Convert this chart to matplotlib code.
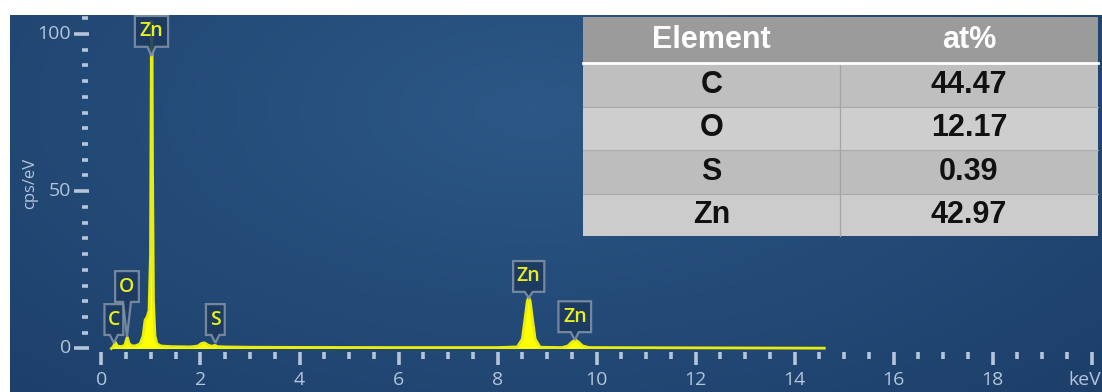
import numpy as np
import matplotlib.pyplot as plt
from matplotlib.patches import Polygon, Rectangle
from matplotlib.colors import LinearSegmentedColormap

# EDS spectrum (keV, cps/eV)
energy = [0.20, 0.24, 0.28, 0.32, 0.40, 0.47, 0.52, 0.56, 0.62, 0.70, 0.78,
          0.84, 0.88, 0.92, 0.96, 0.99, 1.00, 1.01, 1.02, 1.03, 1.05, 1.08,
          1.12, 1.20, 1.40, 1.80, 1.95, 2.02, 2.08, 2.14, 2.22, 2.29, 2.35,
          2.50, 3.0, 4.0, 6.0, 8.0, 8.40, 8.50, 8.56, 8.60, 8.63, 8.66, 8.70,
          8.76, 8.86, 9.30, 9.42, 9.50, 9.57, 9.64, 9.72, 9.85, 12.0, 14.6]
counts = [0.0, 0.6, 2.0, 0.8, 0.6, 1.0, 3.6, 1.5, 0.8, 0.9, 1.5,
          4.0, 9.0, 10.0, 12.0, 30.0, 70.0, 104.0, 104.0, 60.0, 15.0, 4.0,
          1.5, 0.8, 0.6, 0.5, 0.8, 1.6, 1.8, 1.2, 0.7, 1.0, 0.6,
          0.5, 0.4, 0.35, 0.3, 0.3, 0.5, 3.0, 10.0, 15.0, 16.3, 15.0, 10.0,
          3.0, 0.4, 0.3, 0.8, 2.0, 2.8, 2.0, 0.8, 0.3, 0.2, 0.1]

# peak callouts
peak_names = ["C", "O", "Zn", "S", "Zn", "Zn"]
peak_kev = [0.25, 0.515, 1.01, 2.30, 8.63, 9.56]
peak_tip = [1.75, 3.7, 93.0, 1.75, 16.1, 2.7]
box_bottom = [4.3, 14.8, 95.9, 4.3, 18.0, 5.2]
box_width = [0.38, 0.48, 0.67, 0.38, 0.63, 0.66]

# quantification table
elements = ["C", "O", "S", "Zn"]
at_percent = ["44.47", "12.17", "0.39", "42.97"]

fig = plt.figure(figsize=(11.02, 3.92), dpi=100, facecolor="white")
ax = fig.add_axes([10 / 1102, 0, 1092 / 1102, 377 / 392])
xmin, xmax = -1.848, 20.21
ymin, ymax = -13.83, 106.0
ax.set_xlim(xmin, xmax)
ax.set_ylim(ymin, ymax)
ax.axis("off")

# blue panel with a soft glow
gx, gy = np.meshgrid(np.linspace(0, 1, 400), np.linspace(0, 1, 150))
r = np.sqrt(((gx - 0.48) / 0.75) ** 2 + ((gy - 0.25) / 1.1) ** 2)
bg = LinearSegmentedColormap.from_list("bg", ["#2c5786", "#244b78", "#1d3f6a"])
ax.imshow(np.clip(r, 0, 1), cmap=bg, extent=[xmin, xmax, ymin, ymax],
          origin="upper", aspect="auto", zorder=0)

tick_col = "#b4c4da"
font = ["Open Sans", "DejaVu Sans"]

# x ticks every 0.5 keV, long ones every 2 keV
xt = np.arange(0, 20.01, 0.5)
major_x = [t for t in xt if abs(t % 2) < 1e-9]
minor_x = [t for t in xt if abs(t % 2) > 1e-9]
ax.vlines(major_x, -5.3, -1.1, color=tick_col, lw=2.6, zorder=2)
ax.vlines(minor_x, -3.4, -1.1, color=tick_col, lw=2.6, zorder=2)
for t in major_x:
    if t == 20:
        ax.text(20.19, -10.0, "keV", color=tick_col, fontsize=14, family=font,
                ha="right", va="center", zorder=2)
    else:
        ax.text(t, -10.0, f"{t:g}", color=tick_col, fontsize=14, family=font,
                ha="center", va="center", zorder=2)

# y ticks every 5 up to 105
yt = np.arange(0, 106, 5)
ax.hlines([t for t in yt if t % 50 == 0], -0.556, -0.253, color=tick_col, lw=2.6, zorder=2)
ax.hlines([t for t in yt if t % 50 != 0], -0.394, -0.273, color=tick_col, lw=2.6, zorder=2)
for t in [0, 50, 100]:
    ax.text(-0.62, t, str(t), color=tick_col, fontsize=14, family=font,
            ha="right", va="center", zorder=2)
ax.text(-1.446, 52.6, "cps/eV", color=tick_col, fontsize=12, family=font,
        rotation=90, ha="center", va="center", zorder=2)

# spectrum
ax.fill_between(energy, 0, counts, color="#ffff00", lw=0, zorder=3)
ax.plot(energy, counts, color="#e8ec10", lw=2.0, zorder=3)

# callout boxes
dx_ptr = 0.08
for name, cx, tip, b, w in zip(peak_names, peak_kev, peak_tip, box_bottom, box_width):
    top = b + 9.8
    pts = [(cx - w / 2, b), (cx - dx_ptr, b), (cx, tip), (cx + dx_ptr, b),
           (cx + w / 2, b), (cx + w / 2, top), (cx - w / 2, top)]
    ax.add_patch(Polygon(pts, closed=True, facecolor="#1d3a5f", edgecolor="#7f8fa6",
                         lw=1.6, alpha=0.9, zorder=4))
    ax.text(cx, b + 4.9, name, color="#e8f020", fontsize=14, weight="semibold",
            family=font, ha="center", va="center", zorder=5)

# table overlay in pixel coordinates
tx = fig.add_axes([0, 0, 1, 1], facecolor="none")
tx.set_xlim(0, 1102)
tx.set_ylim(392, 0)
tx.axis("off")
rows_y = [17, 63, 107, 150, 194, 236]
cols_x = [583, 840, 1098]
row_fill = ["#9b9b9b", "#bfbfbf", "#cecece", "#bdbdbd", "#cccccc"]
tfont = ["Liberation Sans", "DejaVu Sans"]
for i in range(5):
    tx.add_patch(Rectangle((cols_x[0], rows_y[i]), cols_x[2] - cols_x[0],
                           rows_y[i + 1] - rows_y[i], facecolor=row_fill[i],
                           edgecolor="none", zorder=1))
for y in rows_y[2:-1]:
    tx.plot([cols_x[0], cols_x[2]], [y, y], color="#aaaaaa", lw=0.8, zorder=2)
tx.plot([cols_x[1], cols_x[1]], [rows_y[1], rows_y[-1]], color="#a4a4a4", lw=0.9, zorder=2)
tx.plot([cols_x[0], cols_x[2]], [rows_y[1], rows_y[1]], color="white", lw=2.0, zorder=3)
c1 = (cols_x[0] + cols_x[1]) / 2
c2 = (cols_x[1] + cols_x[2]) / 2
hy = (rows_y[0] + rows_y[1]) / 2
tx.text(c1, hy, "Element", color="white", fontsize=22, weight="bold", family=tfont,
        ha="center", va="center", zorder=4)
tx.text(c2, hy, "at%", color="white", fontsize=22, weight="bold", family=tfont,
        ha="center", va="center", zorder=4)
for i, (el, v) in enumerate(zip(elements, at_percent)):
    yc = (rows_y[i + 1] + rows_y[i + 2]) / 2
    tx.text(c1, yc, el, color="#111111", fontsize=22, weight="bold", family=tfont,
            ha="center", va="center", zorder=4)
    tx.text(c2, yc, v, color="#111111", fontsize=22, weight="bold", family=tfont,
            ha="center", va="center", zorder=4)

fig.savefig("out.png", dpi=100, facecolor="white")
